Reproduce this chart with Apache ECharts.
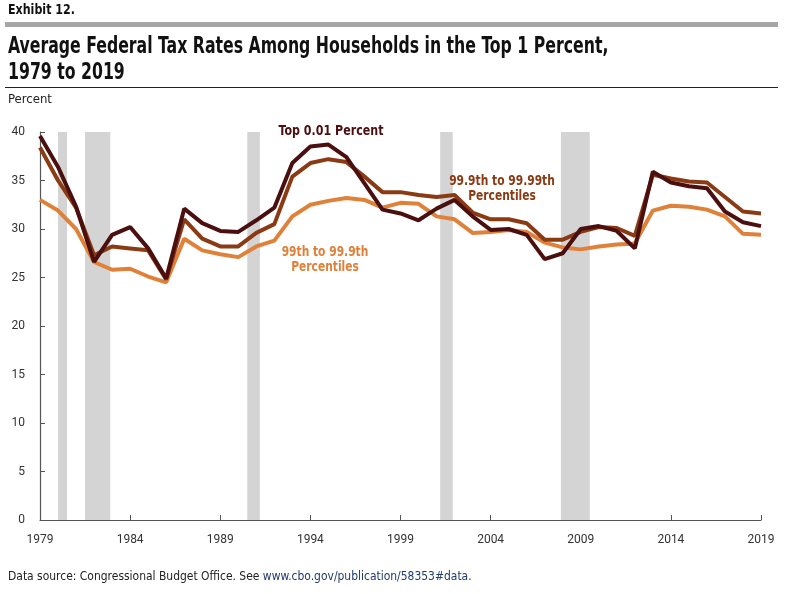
<!DOCTYPE html>
<html>
<head>
<meta charset="utf-8">
<script src="https://cdn.jsdelivr.net/npm/echarts@6/dist/echarts.min.js"></script>
<style>
html,body{margin:0;padding:0;background:#fff;}
#main{width:794px;height:594px;}
</style>
</head>
<body>
<div id="main"></div>
<script>
const years = [1979,1980,1981,1982,1983,1984,1985,1986,1987,1988,1989,1990,1991,1992,1993,1994,1995,1996,1997,1998,1999,2000,2001,2002,2003,2004,2005,2006,2007,2008,2009,2010,2011,2012,2013,2014,2015,2016,2017,2018,2019];
const top001 = [39.6,36.4,32.3,26.6,29.4,30.2,28.0,24.9,32.1,30.6,29.8,29.7,30.9,32.2,36.8,38.5,38.7,37.4,34.7,32.0,31.6,30.9,32.1,33.0,31.3,29.9,30.0,29.4,26.9,27.5,30.0,30.3,29.8,28.0,35.9,34.8,34.4,34.2,31.8,30.7,30.3];
const p999to9999 = [38.4,35.0,32.2,27.3,28.2,28.0,27.8,24.8,31.0,29.0,28.2,28.2,29.6,30.5,35.4,36.8,37.2,36.9,35.4,33.8,33.8,33.5,33.3,33.5,31.7,31.0,31.0,30.6,28.9,28.9,29.7,30.2,30.1,29.3,35.6,35.2,34.9,34.8,33.3,31.8,31.6];
const p99to999 = [33.0,31.9,30.0,26.6,25.8,25.9,25.1,24.5,29.0,27.8,27.4,27.1,28.2,28.8,31.3,32.5,32.9,33.2,33.0,32.2,32.7,32.6,31.3,31.0,29.6,29.7,29.9,29.7,28.6,28.1,27.9,28.2,28.4,28.5,31.9,32.4,32.3,32.0,31.3,29.5,29.4];
const recessionStart = [1980.0, 1981.5, 1990.5, 2001.2, 2007.9];
const recessionEnd   = [1980.5, 1982.9, 1991.2, 2001.9, 2009.5];
const yTicks = [0,5,10,15,20,25,30,35,40];
const baseYear = years[0];

const cDark = '#4a0f0e', cMid = '#8a3b14', cLight = '#e0813a';
const cond = '"DejaVu Sans Condensed","DejaVu Sans",sans-serif';
const axisFont = 'Roboto,"DejaVu Sans Condensed",sans-serif';

const toXY = arr => arr.map((v,i)=>[years[i]-baseYear, v]);
const recAreas = recessionStart.map((s,i)=>[{xAxis:s-baseYear},{xAxis:recessionEnd[i]-baseYear}]);

function txt(x, y, text, size, weight, fill, sx, align, extra) {
  return Object.assign({type:'text', x:x, y:y, scaleX:sx, z:100,
    style:Object.assign({text:text, fontFamily:cond, fontWeight:weight, fontSize:size, fill:fill,
      align:align||'left', verticalAlign:'top'}, extra||{})});
}

const chart = echarts.init(document.getElementById('main'), null, {renderer:'canvas'});
chart.setOption({
  animation:false,
  backgroundColor:'#fff',
  grid:{left:40,right:33,top:132,bottom:74,containLabel:false},
  xAxis:{type:'value',min:0,max:years[years.length-1]-baseYear,interval:5,
    axisLine:{lineStyle:{color:'#555',width:1.2}},
    axisTick:{inside:true,length:5,lineStyle:{color:'#555'}},
    axisLabel:{formatter:v=>String(v+baseYear),color:'#333',fontFamily:axisFont,fontSize:12,margin:14},
    splitLine:{show:false}},
  yAxis:{type:'value',min:yTicks[0],max:yTicks[yTicks.length-1],interval:5,
    axisLine:{show:true,lineStyle:{color:'#555',width:1.2}},
    axisTick:{show:true,inside:true,length:5,lineStyle:{color:'#555'}},
    axisLabel:{color:'#333',fontFamily:axisFont,fontSize:12,margin:15},
    splitLine:{show:false}},
  series:[
    {name:'99th to 99.9th Percentiles',type:'line',data:toXY(p99to999),showSymbol:false,symbol:'none',
      lineStyle:{color:cLight,width:4},z:3,
      markArea:{silent:true,itemStyle:{color:'#d4d4d4'},data:recAreas,z:1}},
    {name:'99.9th to 99.99th Percentiles',type:'line',data:toXY(p999to9999),showSymbol:false,symbol:'none',
      lineStyle:{color:cMid,width:4},z:4},
    {name:'Top 0.01 Percent',type:'line',data:toXY(top001),showSymbol:false,symbol:'none',
      lineStyle:{color:cDark,width:4},z:5}
  ],
  graphic:[
    txt(8, 3, 'Exhibit 12.', 14, 'bold', '#111', 0.88),
    {type:'rect',shape:{x:5,y:22,width:773,height:5},style:{fill:'#a6a6a6'}},
    txt(8, 36, 'Average Federal Tax Rates Among Households in the Top 1 Percent,', 23, 'bold', '#111', 0.76),
    txt(8, 62, '1979 to 2019', 23, 'bold', '#111', 0.76),
    {type:'rect',shape:{x:5,y:87,width:773,height:1},style:{fill:'#222'}},
    txt(8, 93, 'Percent', 13, 'normal', '#222', 1),
    txt(331, 124, 'Top 0.01 Percent', 14, 'bold', cDark, 0.88, 'center'),
    txt(502, 174, '99.9th to 99.99th\nPercentiles', 14, 'bold', cMid, 0.85, 'center', {lineHeight:15}),
    txt(325, 245, '99th to 99.9th\nPercentiles', 14, 'bold', cLight, 0.85, 'center', {lineHeight:15}),
    {type:'text',x:8,y:570,scaleX:0.92,z:100,style:{rich:{a:{fontFamily:cond,fontSize:13,fill:'#222'},b:{fontFamily:cond,fontSize:13,fill:'#1f3a6e'}},text:'{a|Data source: Congressional Budget Office. See }{b|www.cbo.gov/publication/58353#data}{a|.}'}}
  ]
});
</script>
</body>
</html>
